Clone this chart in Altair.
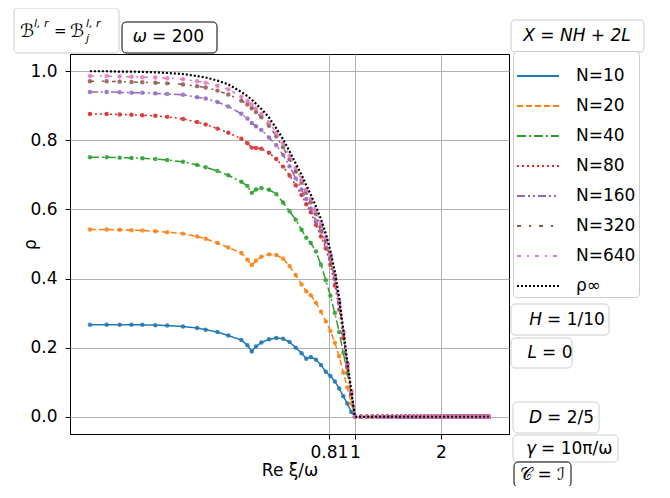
import altair as alt
import pandas as pd

# ---- data ----
NAMES = ["N=10", "N=20", "N=40", "N=80", "N=160", "N=320", "N=640", "ρ∞"]
COLORS = ["#1f77b4", "#ff7f0e", "#2ca02c", "#d62728", "#9467bd", "#8c564b", "#e377c2", "#000000"]
DASHES = [[1, 0], [6, 3], [9, 3, 2, 3], [2, 3], [8, 3, 2, 3, 2, 3], [4, 8, 2, 8], [4, 6, 2, 6], [2, 2]]

X = [0.118, 0.135, 0.15, 0.165, 0.18, 0.2, 0.22, 0.25, 0.28, 0.3, 0.33, 0.36, 0.4, 0.42, 0.435,
     0.45, 0.47, 0.5, 0.53, 0.56, 0.59, 0.62, 0.65, 0.675, 0.7, 0.73, 0.76, 0.79, 0.82, 0.85,
     0.88, 0.91, 0.94, 0.97, 1.0]
X_TAIL = [1.05, 1.1, 1.15, 1.2, 1.25, 1.3, 1.35, 1.4, 1.45, 1.5, 1.55, 1.6, 1.65, 1.7, 1.75,
          1.8, 1.85, 1.9, 1.95, 2.0, 2.05, 2.1, 2.15, 2.2, 2.25, 2.3, 2.35, 2.4, 2.45, 2.5,
          2.55, 2.6, 2.65, 2.7, 2.75, 2.8, 2.85, 2.9, 2.94]
TAIL_VALUE = 0.0

N10 = [0.266, 0.266, 0.266, 0.266, 0.266, 0.265, 0.264, 0.261, 0.257, 0.252, 0.245, 0.235, 0.222,
       0.207, 0.189, 0.203, 0.215, 0.224, 0.228, 0.226, 0.216, 0.200, 0.184, 0.168, 0.173, 0.165,
       0.150, 0.130, 0.118, 0.102, 0.082, 0.059, 0.038, 0.014, 0.0]
N20 = [0.542, 0.542, 0.541, 0.540, 0.539, 0.537, 0.534, 0.530, 0.522, 0.515, 0.503, 0.490, 0.474,
       0.455, 0.439, 0.452, 0.463, 0.470, 0.468, 0.458, 0.436, 0.410, 0.383, 0.363, 0.352, 0.330,
       0.304, 0.276, 0.248, 0.214, 0.175, 0.128, 0.085, 0.038, 0.0]
N40 = [0.751, 0.751, 0.750, 0.749, 0.748, 0.746, 0.743, 0.738, 0.729, 0.722, 0.711, 0.699, 0.680,
       0.668, 0.648, 0.658, 0.662, 0.657, 0.645, 0.620, 0.595, 0.570, 0.541, 0.518, 0.503, 0.478,
       0.440, 0.395, 0.350, 0.300, 0.245, 0.185, 0.126, 0.066, 0.0]
N80 = [0.876, 0.876, 0.875, 0.874, 0.873, 0.871, 0.868, 0.862, 0.853, 0.846, 0.834, 0.822, 0.805,
       0.792, 0.779, 0.778, 0.776, 0.764, 0.746, 0.724, 0.698, 0.670, 0.642, 0.615, 0.592, 0.555,
       0.522, 0.488, 0.440, 0.380, 0.310, 0.228, 0.142, 0.066, 0.0]
N160 = [0.940, 0.940, 0.939, 0.938, 0.938, 0.936, 0.934, 0.932, 0.925, 0.921, 0.911, 0.898, 0.877,
        0.863, 0.850, 0.841, 0.830, 0.808, 0.786, 0.758, 0.725, 0.690, 0.658, 0.630, 0.603, 0.567,
        0.536, 0.505, 0.455, 0.397, 0.327, 0.240, 0.150, 0.070, 0.0]
N320 = [0.971, 0.971, 0.970, 0.969, 0.968, 0.967, 0.965, 0.962, 0.957, 0.953, 0.944, 0.933, 0.915,
        0.904, 0.893, 0.882, 0.867, 0.842, 0.812, 0.780, 0.745, 0.710, 0.677, 0.648, 0.621, 0.587,
        0.551, 0.510, 0.462, 0.403, 0.332, 0.243, 0.152, 0.072, 0.0]
N640 = [0.986, 0.986, 0.985, 0.984, 0.983, 0.982, 0.980, 0.977, 0.971, 0.967, 0.958, 0.948, 0.926,
        0.914, 0.904, 0.892, 0.877, 0.852, 0.822, 0.790, 0.755, 0.720, 0.686, 0.657, 0.630, 0.596,
        0.560, 0.518, 0.470, 0.410, 0.338, 0.247, 0.155, 0.074, 0.0]
RHO_INF = [1.0, 1.0, 0.999, 0.999, 0.998, 0.997, 0.995, 0.992, 0.986, 0.982, 0.973, 0.962, 0.940,
           0.928, 0.918, 0.906, 0.891, 0.866, 0.835, 0.803, 0.768, 0.733, 0.700, 0.670, 0.643,
           0.609, 0.572, 0.530, 0.480, 0.420, 0.345, 0.252, 0.158, 0.075, 0.0]
SERIES = [N10, N20, N40, N80, N160, N320, N640, RHO_INF]

rows = []
for name, vals in zip(NAMES, SERIES):
    for xv, v in zip(X, vals):
        rows.append({"x": xv, "rho": v, "series": name})
    for xv in X_TAIL:
        rows.append({"x": xv, "rho": TAIL_VALUE, "series": name})
df = pd.DataFrame(rows)

FONT = "DejaVu Sans"
W, H = 439, 380

color_scale = alt.Scale(domain=NAMES, range=COLORS)
dash_scale = alt.Scale(domain=NAMES, range=DASHES)
x_enc = alt.X("x:Q", scale=alt.Scale(type="log", domain=[0.1005, 3.46], nice=False),
              axis=alt.Axis(values=[0.81, 1, 2], format="~g", title="Re ξ/ω",
                            labelPadding=5, titleY=36, titleBaseline="middle"))
y_enc = alt.Y("rho:Q", scale=alt.Scale(domain=[-0.05, 1.05], nice=False, zero=False),
              axis=alt.Axis(values=[0, 0.2, 0.4, 0.6, 0.8, 1.0], format=".1f", title="ρ",
                            labelPadding=8, titleAngle=-90, titleX=-40, titleY=H / 2,
                            titleAlign="center", titleBaseline="middle"))
legend = alt.Legend(orient="none", legendX=443, legendY=-3, title=None, symbolType="stroke",
                    symbolSize=1764, symbolStrokeWidth=2, labelFontSize=17, labelFont=FONT,
                    labelColor="black", padding=3, fillColor="white", strokeColor="#cccccc",
                    cornerRadius=4, rowPadding=0, labelOffset=16, symbolLimit=0)

layers = []
one = pd.DataFrame({"k": [0]})


def box(x1, x2, y1, y2, stroke):
    return alt.Chart(one).mark_rect(fill="white", stroke=stroke, strokeWidth=1, cornerRadius=4).encode(
        x=alt.value(x1), x2=alt.value(x2), y=alt.value(y1), y2=alt.value(y2))


def txt(s, x, y, align="center", size=17, style="normal", baseline="middle"):
    return alt.Chart(one).mark_text(text=s, align=align, baseline=baseline, fontSize=size, font=FONT,
                                    fontStyle=style, color="black").encode(
        x=alt.value(x), y=alt.value(y))


for i, name in enumerate(NAMES):
    base = alt.Chart(df).transform_filter(alt.datum.series == name)
    last = name == "ρ∞"
    line = base.mark_line(strokeWidth=2.2 if last else 1.5).encode(
        x=x_enc, y=y_enc,
        color=alt.Color("series:N", scale=color_scale, legend=legend),
        strokeDash=alt.StrokeDash("series:N", scale=dash_scale, legend=legend))
    layers.append(line)
    if not last:
        pts = base.mark_point(filled=True, size=20, opacity=0.85, color=COLORS[i]).encode(
            x=x_enc, y=y_enc)
        layers.append(pts)

# annotation boxes (pixel positions relative to plot area)
layers += [
    box(-56, 49, -46, -1, "#cccccc"),
    txt("ℬ", -50, -17, align="left", size=18, baseline="alphabetic"),
    txt("l, r", -36, -27, align="left", size=11, style="italic", baseline="alphabetic"),
    txt("=", -16, -18, align="left", size=15, baseline="alphabetic"),
    txt("ℬ", 0, -17, align="left", size=18, baseline="alphabetic"),
    txt("l, r", 16, -27, align="left", size=11, style="italic", baseline="alphabetic"),
    txt("j", 16, -12, align="left", size=11, style="italic", baseline="alphabetic"),
    box(52, 147, -32, -1, "black"),
    txt("ω", 77, -17, align="right", style="italic"),
    txt("= 200", 82, -17, align="left"),
    box(441, 574, -34, -2, "#cccccc"),
    txt("X = NH + 2L", 507, -18, style="italic"),
    box(441, 539, 250, 281, "#cccccc"),
    txt("H", 472, 265.5, align="right", style="italic"),
    txt("= 1/10", 477, 265.5, align="left"),
    box(441, 502, 284, 314, "#cccccc"),
    txt("L", 467, 299, align="right", style="italic"),
    txt("= 0", 472, 299, align="left"),
    box(443, 529, 348, 379, "#cccccc"),
    txt("D", 472, 363.5, align="right", style="italic"),
    txt("= 2/5", 477, 363.5, align="left"),
    box(443, 548, 381, 408, "#cccccc"),
    txt("γ", 466, 394.5, align="right", style="italic"),
    txt("= 10π/ω", 471, 394.5, align="left"),
    box(444, 501, 408, 433, "black"),
    txt("𝒞 = ℐ", 472.5, 420.5),
]

chart = alt.layer(*layers).properties(
    width=W, height=H,
    autosize=alt.AutoSizeParams(type="none"),
    padding={"left": 62, "top": 46, "right": 150, "bottom": 52},
).configure_view(stroke="black", strokeWidth=1).configure_axis(
    grid=True, gridColor="#b0b0b0", gridWidth=1, gridOpacity=1,
    domainColor="black", tickColor="black", tickSize=5,
    labelColor="black", labelFontSize=17, labelFont=FONT,
    titleColor="black", titleFontSize=17, titleFont=FONT, titleFontWeight="normal",
)

chart.save("out.html", embed_options={"renderer": "svg", "actions": False})
